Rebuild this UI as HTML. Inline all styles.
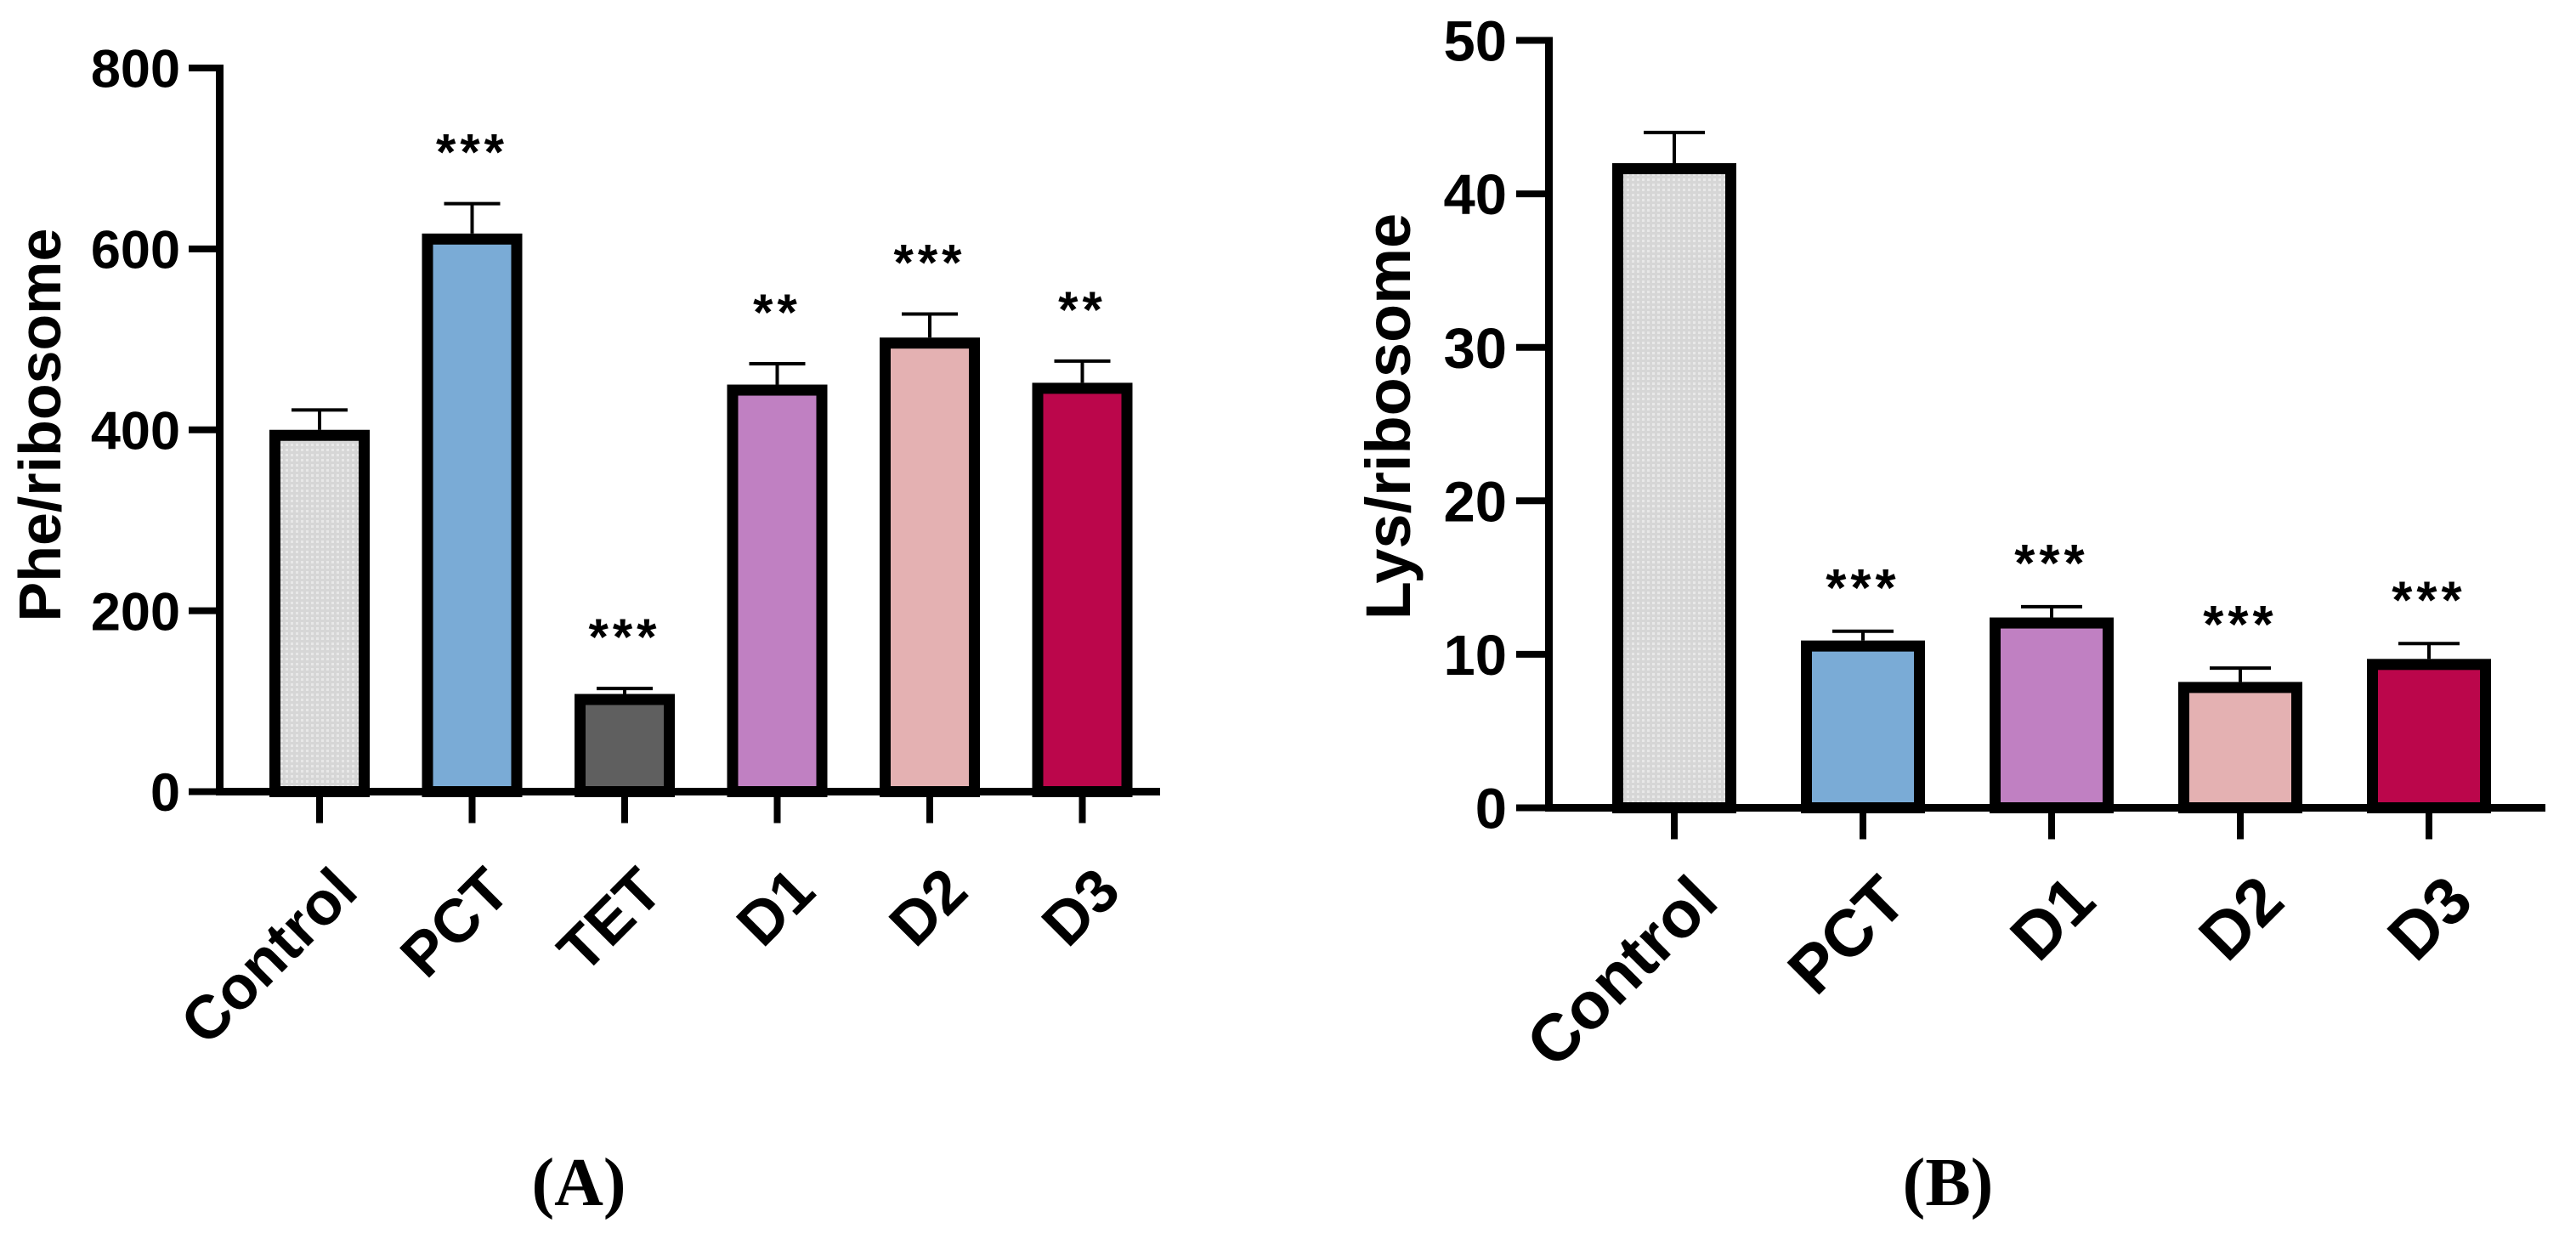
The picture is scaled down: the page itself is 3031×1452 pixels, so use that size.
<!DOCTYPE html>
<html><head><meta charset="utf-8"><style>
html,body{margin:0;padding:0;background:#fff;}
svg{display:block;}
text{font-family:"Liberation Sans",Arial,sans-serif;font-weight:bold;fill:#000;}
</style></head><body>
<svg id="fig" width="3031" height="1452" viewBox="0 0 3031 1452" xmlns="http://www.w3.org/2000/svg">
<defs>
<pattern id="grid" width="6" height="6" patternUnits="userSpaceOnUse">
<rect width="6" height="6" fill="#d6d6d6"/><rect x="0" y="0" width="3" height="3" fill="#e8e8e8"/>
</pattern>
</defs>
<g id="panelA"></g>
<g id="panelB"></g>
<text x="681" y="1418" text-anchor="middle" style="font-family:'Liberation Serif',serif;font-size:80px">(A)</text>
<text x="2292" y="1418" text-anchor="middle" style="font-family:'Liberation Serif',serif;font-size:80px">(B)</text>
</svg>
<script>
// Panel A data
const catsA = ["Control","PCT","TET","D1","D2","D3"];
const valsA = [400, 617, 108, 450, 502, 452];
const errsA = [422, 650, 114, 473, 528, 476];
const sigA = ["", "***", "***", "**", "***", "**"];
const ticksA = [0, 200, 400, 600, 800];
// Panel B data
const catsB = ["Control","PCT","D1","D2","D3"];
const valsB = [42, 10.9, 12.4, 8.2, 9.7];
const errsB = [44, 11.5, 13.1, 9.1, 10.7];
const sigB = ["", "***", "***", "***", "***"];
const ticksB = [0, 10, 20, 30, 40, 50];

const fillsA = ["url(#grid)","#7aabd6","#5f5f5f","#c080c2","#e4b1b2","#bb064b"];
const fillsB = ["url(#grid)","#7aabd6","#c080c2","#e4b1b2","#bb064b"];
const NS = "http://www.w3.org/2000/svg";
function mk(parent, tag, attrs){const e=document.createElementNS(NS,tag);for(const k in attrs)e.setAttribute(k,attrs[k]);parent.appendChild(e);return e;}

function draw(g, cfg){
  const {cats, vals, errs, sig, ticks, fills, axX, y0, yTop, vMax, firstX, step, barW, baseEnd, tickFont, xFont, titleFont, title, titleX, titleY, labDx, labY, starOff, capW, starFont, tickLabelRight, tickLeft} = cfg;
  const ys = v => y0 - (y0 - yTop) * v / vMax;
  const xs = i => firstX + i * step;
  // bars
  cats.forEach((c,i)=>{
    const cx = xs(i), top = ys(vals[i]);
    const eb = mk(g,'line',{x1:cx,x2:cx,y1:top,y2:ys(errs[i]),stroke:'#000','stroke-width':4});
    
    
    const cap = mk(g,'line',{x1:cx-capW/2,x2:cx+capW/2,y1:ys(errs[i]),y2:ys(errs[i]),stroke:'#000','stroke-width':4});
    
    
    const r = mk(g,'rect',{x:cx-barW/2+6.5,y:top+6.5,width:barW-13,height:Math.max(0,y0-top-6.5),fill:fills[i],stroke:'#000','stroke-width':13});
    
    
    if(sig[i]){
      const s = mk(g,'text',{x:cx,y:ys(errs[i])-starOff,'text-anchor':'middle','font-size':starFont,'letter-spacing':'5'});
      s.textContent = sig[i];
      
      
    }
    const t = mk(g,'line',{x1:cx,x2:cx,y1:y0,y2:y0+37,stroke:'#000','stroke-width':8});
    
    
    const lx = cx + labDx;
    const l = mk(g,'text',{x:lx,y:labY,'text-anchor':'end','font-size':xFont,transform:`rotate(-45 ${lx} ${labY})`});
    l.textContent = c;
    
    
  });
  // axes
  const ya = mk(g,'line',{x1:axX,x2:axX,y1:ys(vMax)-4,y2:y0+4.5,stroke:'#000','stroke-width':9});
  
  
  const xa = mk(g,'line',{x1:axX-4,x2:baseEnd,y1:y0,y2:y0,stroke:'#000','stroke-width':9});
  
  
  ticks.forEach(v=>{
    const y = ys(v);
    const tl = mk(g,'line',{x1:tickLeft,x2:axX,y1:y,y2:y,stroke:'#000','stroke-width':8});
    
    
    const tt = mk(g,'text',{x:tickLabelRight,y:y+tickFont*0.36,'text-anchor':'end','font-size':tickFont});
    tt.textContent = v;
    
    
  });
  const ttl = mk(g,'text',{x:titleX,y:titleY,'text-anchor':'middle','font-size':titleFont,transform:`rotate(-90 ${titleX} ${titleY})`});
  ttl.textContent = title;
  
  
}

draw(document.getElementById('panelA'),{cats:catsA,vals:valsA,errs:errsA,sig:sigA,ticks:ticksA,fills:fillsA,
  axX:258.5,y0:931.5,yTop:80,vMax:800,firstX:376,step:179.5,barW:118,baseEnd:1365,
  tickFont:63,xFont:72,titleFont:70,title:"Phe/ribosome",titleX:71,titleY:500,labDx:48,labY:1052,
  starOff:40,capW:66,starFont:60,tickLabelRight:212,tickLeft:222});
draw(document.getElementById('panelB'),{cats:catsB,vals:valsB,errs:errsB,sig:sigB,ticks:ticksB,fills:fillsB,
  axX:1822.5,y0:950.5,yTop:47.5,vMax:50,firstX:1970,step:222,barW:146,baseEnd:2995,
  tickFont:67,xFont:78,titleFont:74,title:"Lys/ribosome",titleX:1659,titleY:490,labDx:55,labY:1064,
  starOff:30,capW:72,starFont:62,tickLabelRight:1773,tickLeft:1784});
</script>
</body></html>
